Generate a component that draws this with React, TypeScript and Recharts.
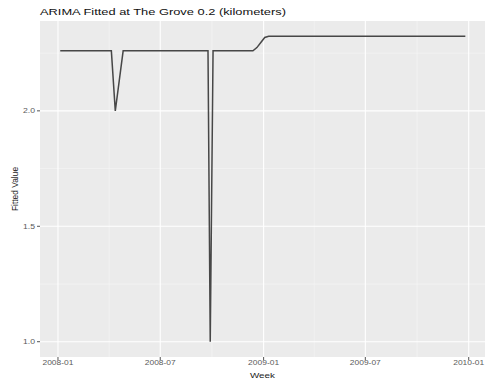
import React from "react";
import {
  LineChart,
  Line,
  XAxis,
  YAxis,
  CartesianGrid,
  ReferenceLine,
  Label,
} from "recharts";

// ---- data ----
const WEEKS: string[] = [
  "2008-01-05", "2008-01-12", "2008-01-19", "2008-01-26", "2008-02-02", "2008-02-09",
  "2008-02-16", "2008-02-23", "2008-03-01", "2008-03-08", "2008-03-15", "2008-03-22",
  "2008-03-29", "2008-04-05", "2008-04-12", "2008-04-19", "2008-04-26", "2008-05-03",
  "2008-05-10", "2008-05-17", "2008-05-24", "2008-05-31", "2008-06-07", "2008-06-14",
  "2008-06-21", "2008-06-28", "2008-07-05", "2008-07-12", "2008-07-19", "2008-07-26",
  "2008-08-02", "2008-08-09", "2008-08-16", "2008-08-23", "2008-08-30", "2008-09-06",
  "2008-09-13", "2008-09-24", "2008-09-28", "2008-10-03", "2008-10-11", "2008-10-18",
  "2008-10-25", "2008-11-01", "2008-11-08", "2008-11-15", "2008-11-22", "2008-11-29",
  "2008-12-06", "2008-12-13", "2008-12-20", "2008-12-27", "2009-01-03", "2009-01-10",
  "2009-01-17", "2009-01-24", "2009-01-31", "2009-02-07", "2009-02-14", "2009-02-21",
  "2009-02-28", "2009-03-07", "2009-03-14", "2009-03-21", "2009-03-28", "2009-04-04",
  "2009-04-11", "2009-04-18", "2009-04-25", "2009-05-02", "2009-05-09", "2009-05-16",
  "2009-05-23", "2009-05-30", "2009-06-06", "2009-06-13", "2009-06-20", "2009-06-27",
  "2009-07-04", "2009-07-11", "2009-07-18", "2009-07-25", "2009-08-01", "2009-08-08",
  "2009-08-15", "2009-08-22", "2009-08-29", "2009-09-05", "2009-09-12", "2009-09-19",
  "2009-09-26", "2009-10-03", "2009-10-10", "2009-10-17", "2009-10-24", "2009-10-31",
  "2009-11-07", "2009-11-14", "2009-11-21", "2009-11-28", "2009-12-05", "2009-12-12",
  "2009-12-19", "2009-12-26",
];

const FITTED: number[] = [
  2.26, 2.26, 2.26, 2.26, 2.26, 2.26,
  2.26, 2.26, 2.26, 2.26, 2.26, 2.26,
  2.26, 2.26, 2.0, 2.13, 2.26, 2.26,
  2.26, 2.26, 2.26, 2.26, 2.26, 2.26,
  2.26, 2.26, 2.26, 2.26, 2.26, 2.26,
  2.26, 2.26, 2.26, 2.26, 2.26, 2.26,
  2.26, 2.26, 1.0, 2.26, 2.26, 2.26,
  2.26, 2.26, 2.26, 2.26, 2.26, 2.26,
  2.26, 2.26, 2.274, 2.296, 2.318, 2.323,
  2.323, 2.323, 2.323, 2.323, 2.323, 2.323,
  2.323, 2.323, 2.323, 2.323, 2.323, 2.323,
  2.323, 2.323, 2.323, 2.323, 2.323, 2.323,
  2.323, 2.323, 2.323, 2.323, 2.323, 2.323,
  2.323, 2.323, 2.323, 2.323, 2.323, 2.323,
  2.323, 2.323, 2.323, 2.323, 2.323, 2.323,
  2.323, 2.323, 2.323, 2.323, 2.323, 2.323,
  2.323, 2.323, 2.323, 2.323, 2.323, 2.323,
  2.323, 2.323,
];

const X_TICK_DATES = ["2008-01-01", "2008-07-01", "2009-01-01", "2009-07-01", "2010-01-01"];
const X_TICK_LABELS = ["2008-01", "2008-07", "2009-01", "2009-07", "2010-01"];
const X_MINOR_DATES = ["2008-04-01", "2008-10-01", "2009-04-01", "2009-10-01"];
const Y_TICKS = [1.0, 1.5, 2.0];
const Y_TICK_LABELS = ["1.0", "1.5", "2.0"];
const Y_MINOR = [1.25, 1.75, 2.25];

const TITLE = "ARIMA Fitted at The Grove 0.2 (kilometers)";
const X_TITLE = "Week";
const Y_TITLE = "Fitted Value";

// ---- helpers ----
const ORIGIN = Date.parse("2008-01-01T00:00:00Z");
const toDay = (s: string) => (Date.parse(s + "T00:00:00Z") - ORIGIN) / 86400000;

const data = WEEKS.map((w, i) => ({ day: toDay(w), value: FITTED[i] }));
const X_TICKS = X_TICK_DATES.map(toDay);
const X_MINOR = X_MINOR_DATES.map(toDay);

const FONT = "'Liberation Sans', Arial, Helvetica, sans-serif";

const XTick = (props: any) => {
  const { x, y, payload } = props;
  const idx = X_TICKS.indexOf(payload.value);
  return (
    <text
      x={x}
      y={y}
      dy={5.2}
      textAnchor="middle"
      fontSize={6.6}
      fontFamily={FONT}
      fill="#5a5a5a"
      textLength={31}
      lengthAdjust="spacingAndGlyphs"
    >
      {X_TICK_LABELS[idx] ?? ""}
    </text>
  );
};

const YTick = (props: any) => {
  const { x, y, payload } = props;
  const idx = Y_TICKS.indexOf(payload.value);
  return (
    <text
      x={x}
      y={y}
      dy={2.4}
      textAnchor="end"
      fontSize={6.6}
      fontFamily={FONT}
      fill="#5a5a5a"
      textLength={12}
      lengthAdjust="spacingAndGlyphs"
    >
      {Y_TICK_LABELS[idx] ?? ""}
    </text>
  );
};

const XTitle = (props: any) => {
  const vb = props.viewBox || {};
  const cx = vb.x + vb.width / 2;
  return (
    <text
      x={cx}
      y={377.5}
      textAnchor="middle"
      fontSize={8}
      fontFamily={FONT}
      fill="#1a1a1a"
      textLength={25}
      lengthAdjust="spacingAndGlyphs"
    >
      {X_TITLE}
    </text>
  );
};

const YTitle = (props: any) => {
  const vb = props.viewBox || {};
  const cy = vb.y + vb.height / 2;
  const bx = 18.3;
  return (
    <text
      x={bx}
      y={cy}
      textAnchor="middle"
      fontSize={8.4}
      fontFamily={FONT}
      fill="#1a1a1a"
      transform={`rotate(-90, ${bx}, ${cy})`}
    >
      {Y_TITLE}
    </text>
  );
};

export default function App() {
  return (
    <div
      style={{
        position: "absolute",
        left: 0,
        top: 0,
        width: 487,
        height: 379,
        background: "#ffffff",
      }}
    >
      <LineChart
        width={487}
        height={379}
        data={data}
        margin={{ top: 21, right: 2, bottom: 0, left: 0 }}
      >
        <CartesianGrid fill="#EBEBEB" horizontal={false} vertical={false} stroke="none" />
        {Y_MINOR.map((v) => (
          <ReferenceLine key={"ym" + v} y={v} stroke="#F7F7F7" strokeWidth={0.6} />
        ))}
        {X_MINOR.map((v) => (
          <ReferenceLine key={"xm" + v} x={v} stroke="#F7F7F7" strokeWidth={0.6} />
        ))}
        {Y_TICKS.map((v) => (
          <ReferenceLine key={"yM" + v} y={v} stroke="#FFFFFF" strokeWidth={1.1} />
        ))}
        {X_TICKS.map((v) => (
          <ReferenceLine key={"xM" + v} x={v} stroke="#FFFFFF" strokeWidth={1.1} />
        ))}
        <XAxis
          type="number"
          dataKey="day"
          domain={[-32, 760]}
          allowDataOverflow
          ticks={X_TICKS}
          interval={0}
          tick={XTick}
          tickSize={3}
          tickMargin={0}
          tickLine={{ stroke: "#555555", strokeWidth: 1 }}
          axisLine={false}
          height={22}
        >
          <Label content={XTitle} />
        </XAxis>
        <YAxis
          type="number"
          domain={[0.9338, 2.3892]}
          allowDataOverflow
          ticks={Y_TICKS}
          interval={0}
          tick={YTick}
          tickSize={3}
          tickMargin={2}
          tickLine={{ stroke: "#555555", strokeWidth: 1 }}
          axisLine={false}
          width={40}
        >
          <Label content={YTitle} />
        </YAxis>
        <Line
          type="linear"
          dataKey="value"
          stroke="#474747"
          strokeWidth={1.5}
          dot={false}
          activeDot={false}
          isAnimationActive={false}
        />
      </LineChart>
      <svg
        width={487}
        height={22}
        style={{ position: "absolute", left: 0, top: 0, pointerEvents: "none" }}
      >
        <text
          x={40}
          y={15.2}
          fontSize={9.8}
          fontFamily={FONT}
          fill="#111111"
          textLength={246}
          lengthAdjust="spacingAndGlyphs"
        >
          {TITLE}
        </text>
      </svg>
    </div>
  );
}
